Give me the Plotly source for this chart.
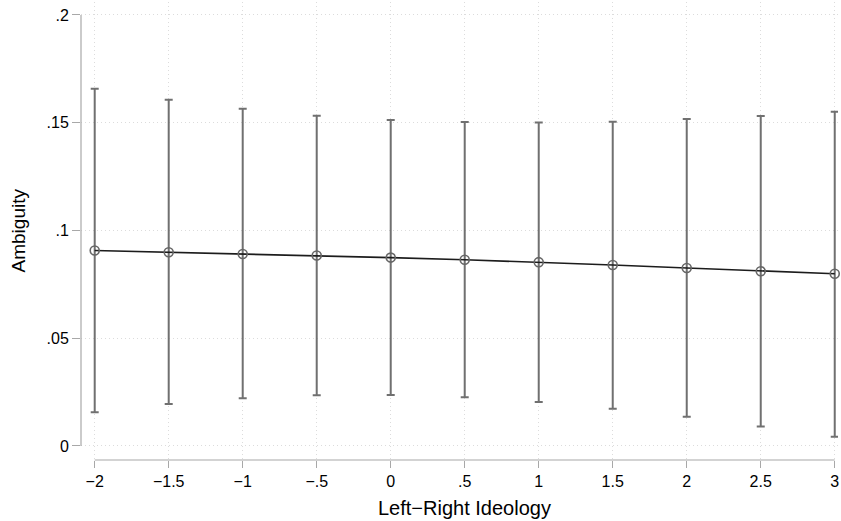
import plotly.graph_objects as go

ideology = [-2, -1.5, -1, -0.5, 0, 0.5, 1, 1.5, 2, 2.5, 3]
ambiguity = [0.0907, 0.0899, 0.0891, 0.0884, 0.0874, 0.0864, 0.0853, 0.0840, 0.0826, 0.0811, 0.0799]
ci_lower = [0.0156, 0.0195, 0.0221, 0.0235, 0.0237, 0.0226, 0.0204, 0.0173, 0.0136, 0.0091, 0.0043]
ci_upper = [0.1657, 0.1606, 0.1565, 0.1532, 0.1512, 0.1503, 0.1501, 0.1504, 0.1517, 0.1531, 0.1551]

x_tickvals = [-2, -1.5, -1, -0.5, 0, 0.5, 1, 1.5, 2, 2.5, 3]
x_ticktext = ["\u22122", "\u22121.5", "\u22121", "\u2212.5", "0", ".5", "1", "1.5", "2", "2.5", "3"]
y_tickvals = [0, 0.05, 0.1, 0.15, 0.2]
y_ticktext = ["0", ".05", ".1", ".15", ".2"]

err_plus = [u - m for u, m in zip(ci_upper, ambiguity)]
err_minus = [m - l for m, l in zip(ambiguity, ci_lower)]

FONT = "Liberation Sans, Arial, Helvetica, sans-serif"
AXIS_GRAY = "#a8a8a8"
GRID = "#dcdcdc"

fig = go.Figure()
fig.add_trace(go.Scatter(
    x=ideology, y=ambiguity, mode="lines+markers",
    line=dict(color="#1c1c1c", width=1.6),
    marker=dict(symbol="circle-open", size=9, color="#666666", line=dict(width=1.6, color="#666666")),
    error_y=dict(type="data", symmetric=False, array=err_plus, arrayminus=err_minus,
                 color="#707070", thickness=2, width=4),
    showlegend=False,
    cliponaxis=False,
))

fig.update_layout(
    width=841, height=521,
    margin=dict(l=81, r=3, t=2, b=61),
    paper_bgcolor="white", plot_bgcolor="white",
    font=dict(family=FONT, size=16, color="black"),
    xaxis=dict(range=[-2.0926, 3.022], tickvals=x_tickvals, ticktext=x_ticktext,
               showgrid=True, gridcolor=GRID, griddash="1px,3px", gridwidth=1,
               zeroline=False, showline=False, ticks="outside", ticklen=7,
               tickcolor=AXIS_GRAY, tickwidth=1.2, tickfont=dict(size=16),
               automargin=False),
    yaxis=dict(range=[-0.0065, 0.206], tickvals=y_tickvals, ticktext=y_ticktext,
               showgrid=True, gridcolor=GRID, griddash="1px,3px", gridwidth=1,
               zeroline=False, showline=False, ticks="outside", ticklen=8,
               tickcolor=AXIS_GRAY, tickwidth=1.2, tickfont=dict(size=16),
               automargin=False),
    shapes=[
        dict(type="line", xref="x", yref="paper", x0=-2, x1=3, y0=0, y1=0,
             line=dict(color=AXIS_GRAY, width=1.2)),
        dict(type="line", xref="paper", yref="y", x0=0, x1=0, y0=0, y1=0.2,
             line=dict(color=AXIS_GRAY, width=1.2)),
    ],
    annotations=[
        dict(text="Left\u2212Right Ideology", xref="x", yref="paper", x=0.5, y=0,
             yshift=-48, showarrow=False, font=dict(size=20), xanchor="center", yanchor="middle"),
        dict(text="Ambiguity", xref="paper", yref="y", x=0, y=0.1, xshift=-63,
             showarrow=False, textangle=-90, font=dict(size=19), xanchor="center", yanchor="middle"),
    ],
)

fig.write_html(
    "out.html",
    config={"displayModeBar": False},
    post_script="document.body.style.margin='0';document.body.style.overflow='hidden';",
)
